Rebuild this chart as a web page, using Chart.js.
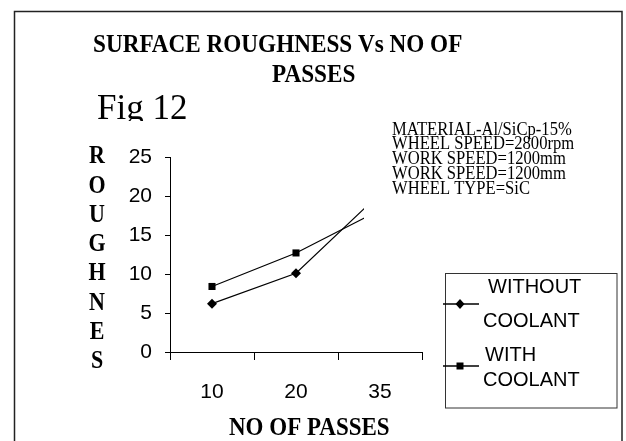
<!DOCTYPE html>
<html>
<head>
<meta charset="utf-8">
<script src="https://cdn.jsdelivr.net/npm/chart.js@4"></script>
<style>
  html, body { margin: 0; padding: 0; background: #fff; }
  #chartId { display: block; }
</style>
</head>
<body>
<canvas id="chartId" width="626" height="441"></canvas>
<script>
// values
const passes = ['10', '20', '35'];
const withoutCoolant = [6.2, 10.1, 20.3];
const withCoolant = [8.4, 12.7, 18.2];
const seriesNames = [['WITHOUT', 'COOLANT'], ['WITH', 'COOLANT']];
const yMax = 25;
const yStep = 5;
const notes = ['MATERIAL-Al/SiCp-15%', 'WHEEL SPEED=2800rpm', 'WORK SPEED=1200mm', 'WORK SPEED=1200mm', 'WHEEL TYPE=SiC'];
const yTitle = 'ROUGHNES'.split('');

const serif = '"Liberation Serif", "Times New Roman", serif';
const sans = '"Liberation Sans", Arial, sans-serif';

// the scanned figure has its serif text a bit stretched upward
function tallText(ctx, text, x, y, sy) {
    ctx.save();
    ctx.translate(x, y);
    ctx.scale(1, sy);
    ctx.fillText(text, 0, 0);
    ctx.restore();
}

// frame, titles, note box and the legend
const decor = {
    id: 'decor',
    beforeDraw(chart) {
        const ctx = chart.ctx;
        ctx.save();
        ctx.fillStyle = '#fff';
        ctx.fillRect(0, 0, chart.width, chart.height);
        ctx.restore();
    },
    afterDatasetsDraw(chart) {
        const ctx = chart.ctx;
        ctx.save();
        // the note text box hides the end of the lines
        ctx.fillStyle = '#fff';
        ctx.fillRect(364, 112, 245, 116);
        ctx.fillStyle = '#000';
        ctx.font = '16.6px ' + serif;
        ctx.textBaseline = 'middle';
        ctx.textAlign = 'left';
        notes.forEach(function(t, i) {
            tallText(ctx, t, 392, 130 + i * 14.7, 1.1);
        });
        ctx.restore();
    },
    afterDraw(chart) {
        const ctx = chart.ctx;
        ctx.save();
        ctx.strokeStyle = '#222';
        ctx.lineWidth = 1.5;
        ctx.strokeRect(14.5, 11.5, 607.5, 450);

        ctx.fillStyle = '#000';
        ctx.textBaseline = 'middle';
        ctx.textAlign = 'left';
        ctx.font = 'bold 23.2px ' + serif;
        tallText(ctx, 'SURFACE ROUGHNESS Vs NO OF', 93, 45, 1.12);
        tallText(ctx, 'PASSES', 272, 75, 1.12);

        // "Fig 12" is cut off at the bottom in the original
        ctx.save();
        ctx.beginPath();
        ctx.rect(80, 85, 150, 36);
        ctx.clip();
        ctx.font = '35px ' + serif;
        ctx.textBaseline = 'alphabetic';
        tallText(ctx, 'Fig 12', 97, 119, 1.05);
        ctx.restore();

        ctx.font = 'bold 22px ' + serif;
        ctx.textAlign = 'center';
        yTitle.forEach(function(ch, i) {
            tallText(ctx, ch, 97, 157 + i * 29.3, 1.1);
        });
        ctx.textAlign = 'left';
        ctx.font = 'bold 23px ' + serif;
        tallText(ctx, 'NO OF PASSES', 229, 428, 1.1);

        // legend
        ctx.strokeStyle = '#333';
        ctx.lineWidth = 1;
        ctx.strokeRect(445.5, 273.5, 171.5, 134.5);
        ctx.strokeStyle = '#000';
        ctx.lineWidth = 1.3;
        const rows = [304, 366];
        rows.forEach(function(y, i) {
            ctx.beginPath();
            ctx.moveTo(443, y);
            ctx.lineTo(479, y);
            ctx.stroke();
            ctx.beginPath();
            if (i === 0) {
                ctx.moveTo(460, y - 5);
                ctx.lineTo(464.5, y);
                ctx.lineTo(460, y + 5);
                ctx.lineTo(455.5, y);
                ctx.closePath();
            } else {
                ctx.rect(456.5, y - 3.5, 7, 7);
            }
            ctx.fill();
        });
        ctx.font = '20px ' + sans;
        ctx.fillText(seriesNames[0][0], 488, 287);
        ctx.fillText(seriesNames[0][1], 483, 321);
        ctx.fillText(seriesNames[1][0], 485, 355);
        ctx.fillText(seriesNames[1][1], 483, 380);
        ctx.restore();
    }
};

const chrt = document.getElementById('chartId').getContext('2d');
const chart = new Chart(chrt, {
    type: 'line',
    data: {
        labels: passes,
        datasets: [{
            label: seriesNames[0].join(' '),
            data: withoutCoolant,
            borderColor: '#000',
            backgroundColor: '#000',
            borderWidth: 1.2,
            pointStyle: 'rectRot',
            pointRadius: 5,
            pointBorderWidth: 0,
            tension: 0
        }, {
            label: seriesNames[1].join(' '),
            data: withCoolant,
            borderColor: '#000',
            backgroundColor: '#000',
            borderWidth: 1.2,
            pointStyle: 'rect',
            pointRadius: 5,
            pointBorderWidth: 0,
            tension: 0
        }]
    },
    options: {
        responsive: false,
        animation: false,
        layout: { padding: { top: 157, right: 204, left: 0, bottom: 0 } },
        plugins: {
            legend: { display: false },
            title: { display: false },
            tooltip: { enabled: false }
        },
        scales: {
            x: {
                type: 'category',
                offset: true,
                grid: { drawOnChartArea: false, drawTicks: true, tickLength: 8, color: '#000', offset: true },
                border: { color: '#000', width: 1 },
                ticks: { color: '#000', font: { family: sans, size: 21 }, padding: 20, maxRotation: 0 },
                afterFit(scale) { scale.height = 89; }
            },
            y: {
                min: 0,
                max: yMax,
                grid: { drawOnChartArea: false, drawTicks: true, tickLength: 5, color: '#000' },
                border: { color: '#000', width: 1 },
                ticks: { stepSize: yStep, color: '#000', font: { family: sans, size: 21 }, padding: 13 },
                afterFit(scale) { scale.width = 170; }
            }
        }
    },
    plugins: [decor]
});
</script>
</body>
</html>
